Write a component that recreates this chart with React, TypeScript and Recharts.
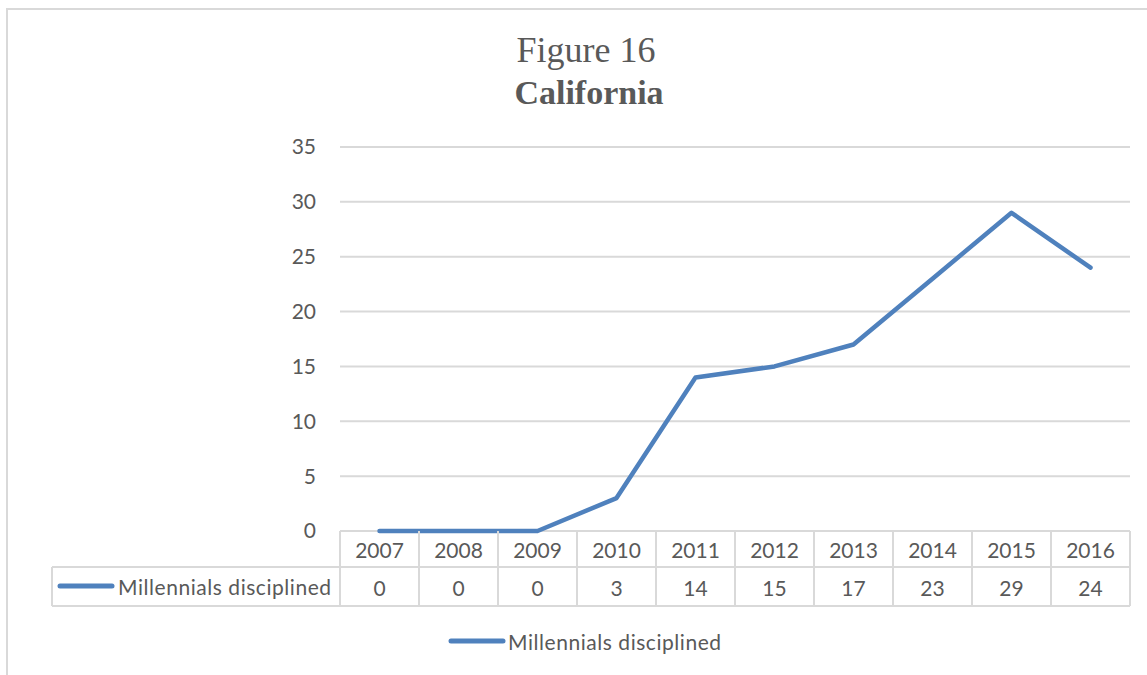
import React from 'react';
import { LineChart, Line, XAxis, YAxis, CartesianGrid } from 'recharts';

const years = ['2007', '2008', '2009', '2010', '2011', '2012', '2013', '2014', '2015', '2016'];
const disciplined = [0, 0, 0, 3, 14, 15, 17, 23, 29, 24];
const yTicks = [0, 5, 10, 15, 20, 25, 30, 35];
const seriesName = 'Millennials disciplined';

const data = years.map((y, i) => ({ year: y, value: disciplined[i] }));

const LINE_COLOR = '#4f81bd';
const GRID = '#d9d9d9';
const TEXT = '#595959';
const FONT = 'Lato, "Open Sans", sans-serif';

const HALF = 39.5;
const ROW1 = 36;
const ROW2 = 75;

const TableTick = (props: any) => {
  const { x, y, payload, index } = props;
  const v = disciplined[index];
  const last = index === years.length - 1;
  return (
    <g>
      <line x1={x - HALF} x2={x + HALF} y1={y + ROW1} y2={y + ROW1} stroke={GRID} strokeWidth={2} />
      <line x1={x - HALF} x2={x + HALF} y1={y + ROW2} y2={y + ROW2} stroke={GRID} strokeWidth={2} />
      <line x1={x - HALF} x2={x - HALF} y1={y} y2={y + ROW2} stroke={GRID} strokeWidth={2} />
      {last && <line x1={x + HALF} x2={x + HALF} y1={y} y2={y + ROW2} stroke={GRID} strokeWidth={2} />}
      <text x={x} y={y + 18} textAnchor="middle" dominantBaseline="central" fill={TEXT} fontSize={21} fontFamily={FONT}>
        {payload.value}
      </text>
      <text x={x} y={y + 56} textAnchor="middle" dominantBaseline="central" fill={TEXT} fontSize={21} fontFamily={FONT}>
        {v}
      </text>
      {index === 0 && (
        <g>
          <line x1={52} x2={x - HALF} y1={y + ROW1} y2={y + ROW1} stroke={GRID} strokeWidth={2} />
          <line x1={52} x2={x - HALF} y1={y + ROW2} y2={y + ROW2} stroke={GRID} strokeWidth={2} />
          <line x1={52} x2={52} y1={y + ROW1} y2={y + ROW2} stroke={GRID} strokeWidth={2} />
          <line x1={60} x2={112} y1={y + 55} y2={y + 55} stroke={LINE_COLOR} strokeWidth={5} strokeLinecap="round" />
          <text x={118} y={y + 55} dominantBaseline="central" fill={TEXT} fontSize={21} letterSpacing={0.55} fontFamily={FONT}>
            {seriesName}
          </text>
          <line x1={451} x2={503} y1={641} y2={641} stroke={LINE_COLOR} strokeWidth={5} strokeLinecap="round" />
          <text x={508} y={641} dominantBaseline="central" fill={TEXT} fontSize={21} letterSpacing={0.55} fontFamily={FONT}>
            {seriesName}
          </text>
        </g>
      )}
    </g>
  );
};

export default function App() {
  return (
    <div style={{ position: 'absolute', left: 0, top: 0, width: 1147, height: 675, background: '#fff', overflow: 'hidden' }}>
      <div
        style={{
          position: 'absolute',
          left: 6,
          top: 8,
          width: 1200,
          height: 700,
          borderTop: `2px solid ${GRID}`,
          borderLeft: `2px solid ${GRID}`,
        }}
      />
      <div style={{ position: 'absolute', left: 0, top: 0 }}>
        <LineChart width={1147} height={675} data={data} margin={{ top: 147, right: 17, bottom: 0, left: 280 }}>
          <text x={586} y={62} textAnchor="middle" fill={TEXT} fontSize={36} fontFamily='"Liberation Serif", "Times New Roman", serif'>
            Figure 16
          </text>
          <text x={589} y={104} textAnchor="middle" fill={TEXT} fontSize={34} fontWeight="bold" fontFamily='"Liberation Serif", "Times New Roman", serif'>
            California
          </text>
          <CartesianGrid vertical={false} stroke={GRID} strokeWidth={2} />
          <XAxis
            dataKey="year"
            height={144}
            axisLine={false}
            tickLine={false}
            tickSize={0}
            tickMargin={0}
            interval={0}
            padding={{ left: HALF, right: HALF }}
            tick={<TableTick />}
          />
          <YAxis
            width={60}
            domain={[0, 35]}
            ticks={yTicks}
            axisLine={false}
            tickLine={false}
            tickSize={0}
            tickMargin={24}
            tick={{ fill: TEXT, fontSize: 21, fontFamily: FONT }}
          />
          <Line
            type="linear"
            dataKey="value"
            name={seriesName}
            stroke={LINE_COLOR}
            strokeWidth={4.5}
            strokeLinecap="round"
            strokeLinejoin="round"
            dot={false}
            activeDot={false}
            isAnimationActive={false}
          />
        </LineChart>
      </div>
    </div>
  );
}
